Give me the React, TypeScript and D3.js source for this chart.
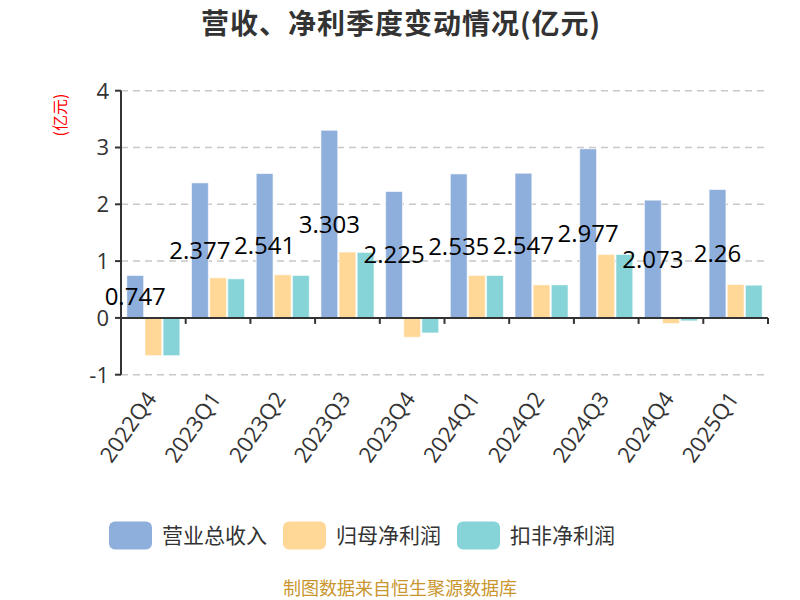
import React from "react";
import * as d3 from "d3";

const categories = ["2022Q4","2023Q1","2023Q2","2023Q3","2023Q4","2024Q1","2024Q2","2024Q3","2024Q4","2025Q1"];
const revenue = [0.747,2.377,2.541,3.303,2.225,2.535,2.547,2.977,2.073,2.26];
const netProfit = [-0.665,0.706,0.759,1.159,-0.341,0.747,0.582,1.117,-0.1,0.588];
const deductedProfit = [-0.665,0.688,0.747,1.153,-0.265,0.747,0.582,1.117,-0.053,0.576];
const yTicks = [-1,0,1,2,3,4];
const seriesNames = ["营业总收入","归母净利润","扣非净利润"];
const colors = ["#8eaedb","#ffd898","#87d4d8"];

const FONT = "'Open Sans','Noto Sans CJK SC',sans-serif";
const CJK = "'Noto Sans CJK SC',sans-serif";

export default function App() {
  const W = 800, H = 600;
  const left = 121, right = 768, top = 90.7, bottom = 374.7;
  const x = d3.scaleBand<string>().domain(categories).range([left, right]).paddingInner(0.18).paddingOuter(0.09);
  const y = d3.scaleLinear().domain([-1, 4]).range([bottom, top]);
  const step = (right - left) / categories.length;
  const gap = 1.3;
  const bw = (x.bandwidth() - 2 * gap) / 3;
  const all = [revenue, netProfit, deductedProfit];
  const legendX = [109, 283, 457];

  return (
    <svg width={W} height={H} style={{ position: "absolute", left: 0, top: 0, fontFamily: FONT }}>
      <rect width={W} height={H} fill="#fff" />
      <text x={401} y={34} textAnchor="middle" fontSize={28} fontWeight="bold" fill="#333" fontFamily={CJK} letterSpacing={1}>营收、净利季度变动情况(亿元)</text>
      {yTicks.filter(t => t !== 0).map(t => (
        <line key={t} x1={left} x2={right} y1={y(t)} y2={y(t)} stroke="#c8c8c8" strokeWidth={1.5} strokeDasharray="7,5" />
      ))}
      {all.map((vals, si) => vals.map((v, i) => {
        const bx = (x(categories[i]) as number) + si * (bw + gap);
        const y0 = y(0), y1 = y(v);
        return <rect key={si + "-" + i} x={bx} y={Math.min(y0, y1)} width={bw} height={Math.abs(y1 - y0)} fill={colors[si]} stroke="rgba(255,255,255,0.6)" strokeWidth={1} />;
      }))}
      {/* y axis */}
      <line x1={left} x2={left} y1={top} y2={bottom} stroke="#333" strokeWidth={2} />
      {yTicks.map(t => (
        <g key={t}>
          <line x1={left - 6} x2={left} y1={y(t)} y2={y(t)} stroke="#333" strokeWidth={2} />
          <text x={left - 12} y={y(t)} dy="0.36em" textAnchor="end" fontSize={22} fill="#333">{t}</text>
        </g>
      ))}
      <text transform={`translate(60,115) rotate(-90)`} textAnchor="middle" dy="0.35em" fontSize={16} fill="#ff0000" fontFamily={CJK}>(亿元)</text>
      {/* x axis */}
      <line x1={left} x2={right} y1={y(0)} y2={y(0)} stroke="#333" strokeWidth={2} />
      {d3.range(categories.length + 1).map(i => (
        <line key={i} x1={left + i * step} x2={left + i * step} y1={y(0)} y2={y(0) + 6} stroke="#333" strokeWidth={2} />
      ))}
      {categories.map(c => {
        const cx = (x(c) as number) + x.bandwidth() / 2;
        return (
          <text key={c} transform={`translate(${cx + 4},${bottom + 24}) rotate(-55)`} textAnchor="end" fontSize={22} fill="#333">{c}</text>
        );
      })}
      {/* labels */}
      {revenue.map((v, i) => {
        const cx = (x(categories[i]) as number) + bw / 2;
        return <text key={i} x={cx} y={y(v / 2)} dy="0.36em" textAnchor="middle" fontSize={24} fill="#000">{v}</text>;
      })}
      {/* legend */}
      {seriesNames.map((n, i) => (
        <g key={n}>
          <rect x={legendX[i]} y={521.5} width={43} height={28} rx={6} fill={colors[i]} />
          <text x={legendX[i] + 53} y={535.5} dy="0.35em" fontSize={21} fill="#333" fontFamily={CJK}>{n}</text>
        </g>
      ))}
      <text x={400} y={595} textAnchor="middle" fontSize={18} fill="#c9962e" fontFamily={CJK}>制图数据来自恒生聚源数据库</text>
    </svg>
  );
}
